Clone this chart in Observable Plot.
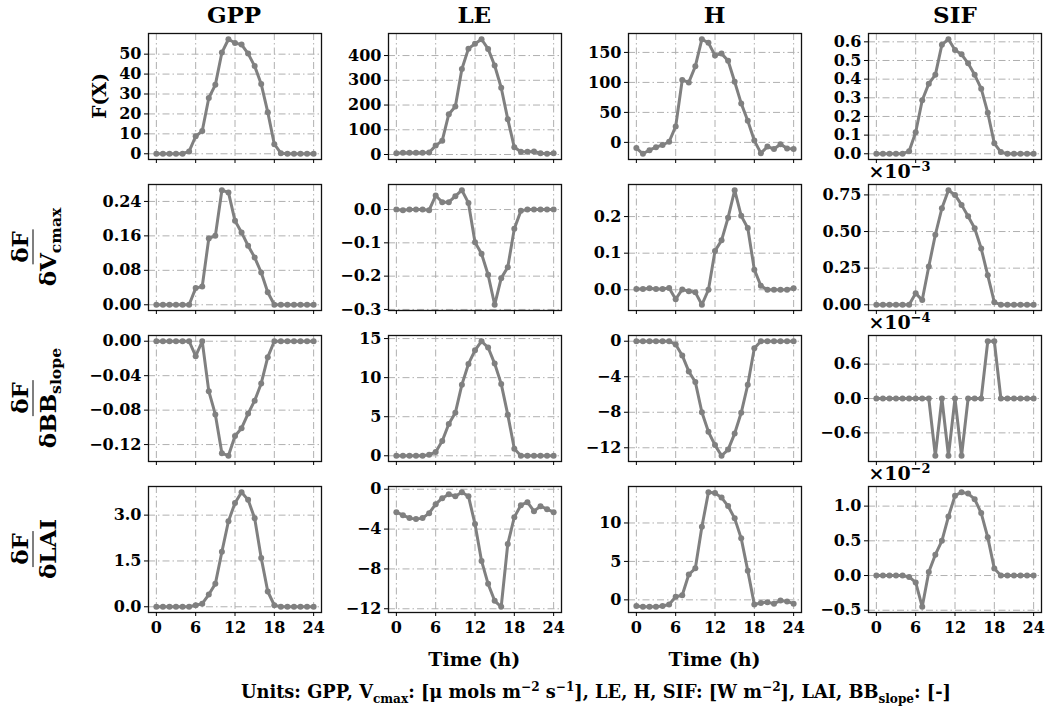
<!DOCTYPE html>
<html><head><meta charset="utf-8">
<script src="https://cdn.jsdelivr.net/npm/d3@7"></script>
<script src="https://cdn.jsdelivr.net/npm/@observablehq/plot@0.6"></script>
<style>
body{margin:0;background:#fff;}
#root{position:relative;width:1048px;height:708px;font-family:"DejaVu Serif",serif;font-weight:bold;color:#000;overflow:hidden;}
.abs{position:absolute;white-space:nowrap;line-height:1;}
.rot{position:absolute;transform:translate(-50%,-50%) rotate(-90deg);white-space:nowrap;line-height:1;}
.frac{display:inline-flex;flex-direction:column;align-items:center;}
.frac .num{padding:0 2px 2px 2px;border-bottom:1.8px solid #000;}
.frac .den{padding:2px 2px 0 2px;}
sub,sup{font-size:68%;line-height:0;}
</style></head><body><div id="root"></div>
<script>
// ---------- data ----------
const hours = [0,1,2,3,4,5,6,7,8,9,10,11,12,13,14,15,16,17,18,19,20,21,22,23,24];
const columns = ["GPP","LE","H","SIF"];
const xTicks = [0,6,12,18,24];
const xTickLabels = ["0","6","12","18","24"];

// Row 1: F(X)
const gppF = [0,0,0,0,0,1.2,8.8,11.4,28,34.6,50.8,57.5,55.6,54.8,50.3,44,35,20.9,4.8,0.3,0,0,0,0,0];
const leF  = [5,7,7,7,7,8,36,56,163,194,346,428,448,466,427,360,270,143,29,11,11,12,5,3,5];
const hF   = [-9.4,-19,-13,-8,-4.4,1,26.6,104,100,127,172,166,145,148,136,101,65,36,3,-18,-7,-11,-3,-10,-11];
const sifF = [0,0,0,0,0,0.014,0.115,0.287,0.376,0.423,0.585,0.614,0.556,0.533,0.485,0.423,0.349,0.220,0.056,0.009,0,0,0,0,0];
// Row 2: dF/dVcmax
const gppVcmax = [0,0,0,0,0,0,0.0387,0.0426,0.154,0.160,0.266,0.261,0.195,0.168,0.137,0.110,0.075,0.029,0,0,0,0,0,0,0];
const leVcmax  = [0,-0.002,0,0,0,-0.002,0.042,0.022,0.022,0.040,0.058,0.020,-0.098,-0.133,-0.196,-0.286,-0.206,-0.173,-0.058,-0.004,0,0,0,0,0];
const hVcmax   = [0.002,0.002,0.004,0.002,0.002,0.005,-0.026,0.001,-0.004,-0.007,-0.041,0,0.106,0.135,0.197,0.272,0.202,0.169,0.055,0.011,0,0,0,0,0.004];
const sifVcmax = [0,0,0,0,0,0,0.078,0.032,0.261,0.478,0.659,0.782,0.750,0.682,0.604,0.522,0.384,0.201,0.018,0,0,0,0,0,0]; // x1e-3
// Row 3: dF/dBBslope
const gppBB = [0,0,0,0,0,0,-0.0174,0,-0.058,-0.085,-0.130,-0.133,-0.110,-0.101,-0.084,-0.069,-0.049,-0.0185,0,0,0,0,0,0,0];
const leBB  = [0,0,0,0,0,0.13,0.47,1.88,4.06,5.5,9.1,11.75,13.5,14.66,13.85,11.8,9.2,5.26,0.9,0,0,0,0,0,0];
const hBB   = [0,0,0,0,0,0,-0.37,-1.6,-3.4,-4.6,-8.0,-10.2,-11.7,-12.9,-12.2,-10.4,-8.06,-4.9,-0.79,0,0,0,0,0,0];
const sifBB = [0,0,0,0,0,0,0,0,0,-1.0,0,-1.0,0,-1.0,0,0,0,1.0,1.0,0,0,0,0,0,0]; // x1e-4
// Row 4: dF/dLAI
const gppLAI = [0,0,0,0,0,0,0.05,0.1,0.4,0.75,1.8,2.8,3.4,3.75,3.5,2.9,1.6,0.5,0.05,0,0,0,0,0,0];
const leLAI  = [-2.3,-2.6,-2.9,-3.0,-2.9,-2.4,-1.5,-0.9,-0.5,-0.7,-0.3,-0.7,-3.5,-7.2,-9.5,-11.2,-11.8,-5.5,-2.8,-1.6,-1.3,-2.2,-1.7,-2.0,-2.3];
const hLAI   = [-0.8,-0.9,-0.9,-0.9,-0.8,-0.6,0.4,0.6,3.3,4.1,9.5,14.0,13.9,13.3,12.2,10.6,8.0,3.8,-0.6,-0.4,-0.3,-0.5,-0.1,-0.2,-0.5];
const sifLAI = [0,0,0,0,0,-0.02,-0.1,-0.45,0.05,0.3,0.5,0.85,1.15,1.2,1.18,1.1,0.9,0.55,0.1,0,0,0,0,0,0]; // x1e-2

// y ticks and labels
const yTicks = [
  [[0,10,20,30,40,50],[0,100,200,300,400],[0,50,100,150],[0,0.1,0.2,0.3,0.4,0.5,0.6]],
  [[0,0.08,0.16,0.24],[0,-0.1,-0.2,-0.3],[0,0.1,0.2],[0,0.25,0.5,0.75]],
  [[0,-0.04,-0.08,-0.12],[0,5,10,15],[0,-4,-8,-12],[0.6,0,-0.6]],
  [[0,1.5,3],[0,-4,-8,-12],[0,5,10],[-0.5,0,0.5,1]]
];
const yTickLabels = [
  [["0","10","20","30","40","50"],["0","100","200","300","400"],["0","50","100","150"],["0.0","0.1","0.2","0.3","0.4","0.5","0.6"]],
  [["0.00","0.08","0.16","0.24"],["0.0","\u22120.1","\u22120.2","\u22120.3"],["0.0","0.1","0.2"],["0.00","0.25","0.50","0.75"]],
  [["0.00","\u22120.04","\u22120.08","\u22120.12"],["0","5","10","15"],["0","\u22124","\u22128","\u221212"],["0.6","0.0","\u22120.6"]],
  [["0.0","1.5","3.0"],["0","\u22124","\u22128","\u221212"],["0","5","10"],["\u22120.5","0.0","0.5","1.0"]]
];
const series = [
  [gppF, leF, hF, sifF],
  [gppVcmax, leVcmax, hVcmax, sifVcmax],
  [gppBB, leBB, hBB, sifBB],
  [gppLAI, leLAI, hLAI, sifLAI]
];
const offsetLabels = [null, "\u00d710<sup>\u22123</sup>", "\u00d710<sup>\u22124</sup>", "\u00d710<sup>\u22122</sup>"];

// ---------- layout ----------
const root = document.getElementById("root");
const FL = 147.5, FT = 32.7, DX = 240.3, DY = 151.2, FW = 173, FH = 126;
const ML = 75, MR = 12, MT = 10, MB = 34;
const LINE = "#808080";
const GRID = "#b0b0b0";
const TICKFONT = 16;

function addDiv(html, cls, x, y, style = "") {
  const d = document.createElement("div");
  d.className = cls;
  d.innerHTML = html;
  d.style.cssText = `left:${x}px;top:${y}px;${style}`;
  root.appendChild(d);
  return d;
}

for (let r = 0; r < 4; r++) {
  for (let c = 0; c < 4; c++) {
    const values = series[r][c];
    const data = hours.map((h, i) => ({h, v: values[i]}));
    const lo = d3.min(values), hi = d3.max(values), pad = (hi - lo) * 0.05;
    const lab = new Map(yTicks[r][c].map((t, i) => [t, yTickLabels[r][c][i]]));
    const xl = new Map(xTicks.map((t, i) => [t, xTickLabels[i]]));
    const showX = r === 3;
    const svg = Plot.plot({
      width: FW + ML + MR, height: FH + MT + MB,
      marginLeft: ML, marginRight: MR, marginTop: MT, marginBottom: MB,
      style: {fontFamily: "DejaVu Serif", fontWeight: "bold", fontSize: TICKFONT + "px", background: "transparent", overflow: "visible", maxWidth: "none", color: "#000"},
      x: {domain: [-1.2, 25.2]},
      y: {domain: [lo - pad, hi + pad]},
      marks: [
        Plot.gridX(xTicks, {stroke: GRID, strokeOpacity: 1, strokeWidth: 1, strokeDasharray: "7,3,1.5,3"}),
        Plot.gridY(yTicks[r][c], {stroke: GRID, strokeOpacity: 1, strokeWidth: 1, strokeDasharray: "7,3,1.5,3"}),
        Plot.line(data, {x: "h", y: "v", stroke: LINE, strokeWidth: 3}),
        Plot.dot(data, {x: "h", y: "v", fill: LINE, r: 3}),
        Plot.frame({stroke: "#111", strokeWidth: 1.3}),
        Plot.axisY(yTicks[r][c], {tickSize: 4, tickPadding: 3, fontSize: TICKFONT, tickFormat: d => lab.get(d), label: null}),
        Plot.axisX(xTicks, {tickSize: 4, tickPadding: 5, fontSize: TICKFONT, tickFormat: d => showX ? xl.get(d) : "", label: null})
      ]
    });
    const wrap = document.createElement("div");
    wrap.style.cssText = `position:absolute;left:${FL + c * DX - ML}px;top:${FT + r * DY - MT}px;width:${FW + ML + MR}px;`;
    wrap.appendChild(svg);
    root.appendChild(wrap);
    if (c === 3 && offsetLabels[r]) {
      addDiv(offsetLabels[r], "abs", FL + 3 * DX, FT + r * DY - 22, "font-size:19px;");
    }
  }
}

// column titles
columns.forEach((t, c) => {
  addDiv(t, "abs", FL + c * DX + FW / 2, 3, "font-size:23px;transform:translateX(-50%);");
});

// row labels
addDiv("F(X)", "rot", 99, FT + FH / 2, "font-size:19px;");
const denoms = ["\u03b4V<sub>cmax</sub>", "\u03b4BB<sub>slope</sub>", "\u03b4LAI"];
denoms.forEach((d, i) => {
  addDiv(`<span class="frac"><span class="num">\u03b4F</span><span class="den">${d}</span></span>`, "rot", 33, FT + (i + 1) * DY + FH / 2, "font-size:23px;");
});

// x labels
addDiv("Time (h)", "abs", FL + DX + FW / 2, 650, "font-size:19px;transform:translateX(-50%);");
addDiv("Time (h)", "abs", FL + 2 * DX + FW / 2, 650, "font-size:19px;transform:translateX(-50%);");

// caption
addDiv("Units: GPP, V<sub>cmax</sub>: [\u03bc mols m<sup>\u22122</sup> s<sup>\u22121</sup>], LE, H, SIF: [W m<sup>\u22122</sup>], LAI, BB<sub>slope</sub>: [-]", "abs", 596, 683, "font-size:17.8px;transform:translateX(-50%);");
</script></body></html>
